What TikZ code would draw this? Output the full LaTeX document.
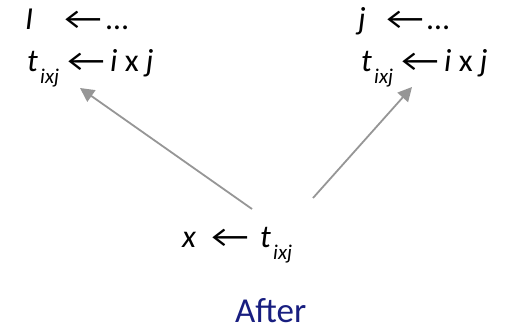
\documentclass[tikz,border=0pt]{standalone}
\usepackage{fontspec}
\setmainfont{Carlito}
\usetikzlibrary{arrows.meta}
\definecolor{afterblue}{RGB}{24,30,128}
\definecolor{arrowgray}{RGB}{150,150,150}
\newcommand{\larr}{\scalebox{1.3}[1]{←}}
\tikzset{
  lbl/.style={anchor=base west, inner sep=0pt, font=\fontsize{32}{36}\selectfont},
  sub/.style={anchor=base west, inner sep=0pt, font=\fontsize{21}{24}\selectfont\itshape},
  conn/.style={draw=arrowgray, line width=1.8pt, -{Triangle[length=14pt,width=14pt]}},
}
\begin{document}
\begin{tikzpicture}[x=1pt,y=-1pt]
\useasboundingbox (0,0) rectangle (514,326);
% left column
\node[lbl] (lI) at (25,30) {\textit{I}};
\node[lbl] (la1) at (64,30) {\larr};
\node[lbl] (ld) at (106,30) {…};
\node[lbl] (lt) at (27,72) {\textit{t}};
\node[sub] (lsub) at (40,84) {ixj};
\node[lbl] (la2) at (67,72) {\larr};
\node[lbl] (lijx) at (110,72) {\textit{i} x \textit{j}};
% right column
\node[lbl] (rj) at (358,30) {\textit{j}};
\node[lbl] (ra1) at (386,30) {\larr};
\node[lbl] (rd) at (427,30) {…};
\node[lbl] (rt) at (361,72) {\textit{t}};
\node[sub] (rsub) at (374,84) {ixj};
\node[lbl] (ra2) at (401,72) {\larr};
\node[lbl] (rijx) at (444,72) {\textit{i} x \textit{j}};
% bottom
\node[lbl] (bx) at (182,247) {\textit{x}};
\node[lbl] (ba) at (211,247) {\larr};
\node[lbl] (bt) at (260,247) {\textit{t}};
\node[sub] (bsub) at (273,259) {ixj};
\node[anchor=base west, inner sep=0pt, font=\fontsize{35}{38}\selectfont, text=afterblue] (after) at (235,322) {After};
% connectors
\coordinate (ls) at (252,209);
\coordinate (le) at (80,88);
\coordinate (rs) at (313,198);
\coordinate (re) at (412,87);
\draw[conn] (ls) -- (le);
\draw[conn] (rs) -- (re);
\end{tikzpicture}
\end{document}
